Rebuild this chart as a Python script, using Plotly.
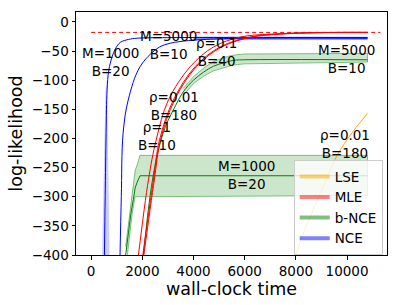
import plotly.graph_objects as go

# ---------------- data ----------------
# NCE (blue)
nce1_x = [520, 550, 586, 625, 690, 820, 950, 1145, 1470, 1800, 3000, 10800]
nce1_y = [-400, -300, -190, -117, -83, -60, -46, -35, -30, -28, -27, -27]
nce2_x = [1130, 1180, 1250, 1450, 1910, 2570, 2970, 3600, 4500, 6000, 10800]
nce2_y = [-400, -300, -191, -134, -77, -46, -38, -33, -30, -28, -28]
nce_band_x = [4000, 10800]
nce_band_hi = [-25.5, -25.5]
nce_band_lo = [-30.5, -30.5]
nce1_band_hi_x = [430, 470, 510, 560, 640]
nce1_band_lo_x = [720, 690, 660, 620, 600]
nce1_band_y = [-400, -300, -200, -120, -80]

# MLE (red)
mle1_x = [1850, 2240, 2540, 3020, 3870, 4780, 5830, 7000, 8700, 10800]
mle1_y = [-400, -271, -203, -134, -77, -43, -26, -21, -18.5, -18]
mle2_x = [2020, 2435, 2670, 3215, 4060, 5040, 6210, 7300, 8700, 10800]
mle2_y = [-400, -271, -203, -134, -77, -43, -26, -21, -18.5, -18]
mle3_x = [2060, 2470, 2710, 3260, 4110, 5100, 6280, 7400, 8800, 10800]
mle3_y = [-400, -271, -203, -134, -77, -43, -26, -21, -18.5, -18]
mle_opt_x = [0, 11300]
mle_opt_y = [-18, -18]

# b-NCE (green)
bnce1_x = [1350, 1450, 1550, 1650, 1720, 1800, 1910, 10800]
bnce1_y = [-400, -360, -330, -305, -285, -275, -264, -264]
bnce1_hi_x = [1350, 1550, 1650, 1720, 1800, 1910, 10800]
bnce1_hi_y = [-385, -315, -280, -255, -245, -229, -229]
bnce1_lo_x = [1420, 1600, 1720, 10800]
bnce1_lo_y = [-400, -330, -300, -298]
bnce2_x = [2045, 2300, 2565, 2900, 3215, 3600, 4000, 4400, 4780, 5200, 5550, 6000, 10800]
bnce2_y = [-400, -300, -232, -180, -151, -120, -100, -86, -76, -70, -66, -65, -65]
bnce2_band_x = [3600, 4000, 4400, 4780, 5200, 5550, 6000, 10800]
bnce2_band_hi = [-114, -94, -79, -68, -61, -57, -55, -54]
bnce2_band_lo = [-126, -106, -93, -84, -79, -74, -72, -69]

# LSE (orange)
lse_x = [8000, 8300, 9000, 9600, 10200, 10800]
lse_y = [-400, -362, -290, -230, -190, -157]

# labels
label_text = ["M=1000<br>B=20", "M=5000<br>B=10", "ρ=0.1<br>B=40", "M=5000<br>B=10",
              "ρ=0.01<br>B=180", "ρ=1<br>B=10", "M=1000<br>B=20", "ρ=0.01<br>B=180"]
label_x = [760, 3020, 4910, 9990, 3220, 2565, 6055, 9920]
label_y = [-68.5, -39, -51.5, -63.5, -143.5, -195, -262, -210]

legend_names = ["LSE", "MLE", "b-NCE", "NCE"]
legend_colors = ["#FFA500", "#FF0000", "#008000", "#0000FF"]

x_ticks = [0, 2000, 4000, 6000, 8000, 10000]
x_tick_text = ["0", "2000", "4000", "6000", "8000", "10000"]
y_ticks = [0, -50, -100, -150, -200, -250, -300, -350, -400]

# ---------------- figure ----------------
fig = go.Figure()
BLUE, RED, GREEN, ORANGE = "#0000FF", "#FF0000", "#008000", "#FFA500"


def band(xs_hi, ys_hi, xs_lo, ys_lo, rgb, alpha=0.2, edge=True):
    fig.add_trace(go.Scatter(
        x=list(xs_hi) + list(xs_lo)[::-1], y=list(ys_hi) + list(ys_lo)[::-1],
        fill="toself", fillcolor=f"rgba({rgb},{alpha})", mode="lines",
        line=dict(color=f"rgba({rgb},0.45)" if edge else "rgba(0,0,0,0)", width=1),
        showlegend=False, hoverinfo="skip"))


def line(xs, ys, color, width=1.0, shape="spline", dash=None):
    fig.add_trace(go.Scatter(x=xs, y=ys, mode="lines",
                             line=dict(color=color, width=width, shape=shape, dash=dash),
                             showlegend=False))


# bands
band(nce1_band_hi_x, nce1_band_y, nce1_band_lo_x, nce1_band_y, "0,0,255", edge=False)
band(nce_band_x, nce_band_hi, nce_band_x, nce_band_lo, "0,0,255", alpha=0.5, edge=False)
band(bnce1_hi_x, bnce1_hi_y, bnce1_lo_x, bnce1_lo_y, "0,128,0")
band(bnce2_band_x, bnce2_band_hi, bnce2_band_x, bnce2_band_lo, "0,128,0")

# lines
line(mle_opt_x, mle_opt_y, RED, width=1, shape="linear", dash="4px,3px")
line(nce1_x, nce1_y, BLUE)
line(nce2_x, nce2_y, BLUE)
line(bnce1_x, bnce1_y, GREEN, shape="linear")
line(bnce2_x, bnce2_y, GREEN)
line(mle1_x, mle1_y, RED)
line(mle2_x, mle2_y, RED)
line(mle3_x, mle3_y, RED)
line(lse_x, lse_y, ORANGE, width=1)

# legend entries
for name, col in zip(legend_names, legend_colors):
    fig.add_trace(go.Scatter(x=[None], y=[None], mode="lines", name=name,
                             line=dict(color=col, width=4), opacity=0.5))

for t, x, y in zip(label_text, label_x, label_y):
    fig.add_annotation(x=x, y=y, text=t, showarrow=False,
                       font=dict(size=13.5, color="black", family="DejaVu Sans"))

fig.update_layout(
    width=407, height=305,
    margin=dict(l=76, r=20, t=12, b=50),
    paper_bgcolor="white", plot_bgcolor="white",
    font=dict(family="DejaVu Sans", size=13.5, color="black"),
    showlegend=True,
    legend=dict(x=0.70, y=0.39, xanchor="left", yanchor="top",
                bgcolor="rgba(255,255,255,0.8)", bordercolor="#cccccc", borderwidth=1,
                font=dict(size=13.5), tracegroupgap=0),
    xaxis=dict(range=[-590, 11560], tickvals=x_ticks, ticktext=x_tick_text,
               showgrid=False, zeroline=False, automargin=False,
               showline=True, mirror=True, linecolor="black", linewidth=1,
               ticks="outside", ticklen=3.5, tickcolor="black",
               title=dict(text="wall-clock time", font=dict(size=17.5), standoff=0)),
    yaxis=dict(range=[-400, 17], tickvals=y_ticks, showgrid=False, zeroline=False,
               automargin=False,
               showline=True, mirror=True, linecolor="black", linewidth=1,
               ticks="outside", ticklen=3.5, tickcolor="black",
               title=dict(text="log-likelihood", font=dict(size=17.5), standoff=4)),
)

fig.write_html("out.html", config={"displayModeBar": False},
               post_script="document.body.style.margin='0';document.body.style.overflow='hidden';")
